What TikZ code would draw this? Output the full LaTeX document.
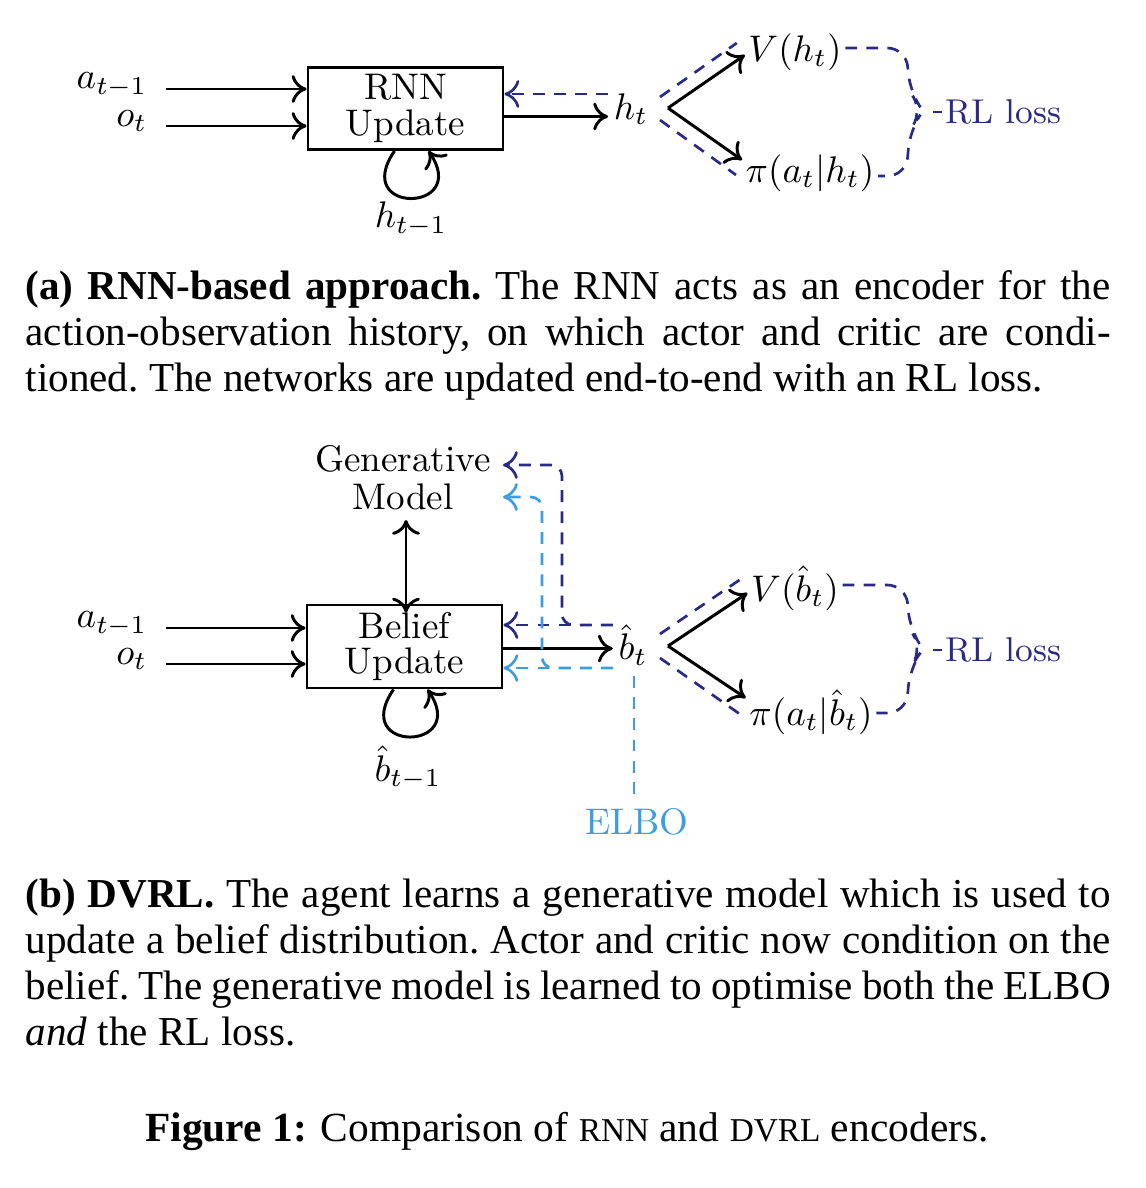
\documentclass[tikz,border=0pt]{standalone}
\usepackage{fontspec}
\newfontfamily\capfont{Liberation Serif}
\usetikzlibrary{arrows.meta}
\definecolor{navy}{RGB}{42,42,132}
\definecolor{elbo}{RGB}{60,158,222}
\tikzset{
  lbl/.style={font=\fontsize{10}{10}\selectfont, inner sep=0pt},
  boxnode/.style={draw, line width=0.8pt, minimum width=52.65pt, minimum height=22.14pt, align=center, inner sep=0pt, font=\fontsize{10}{10}\selectfont},
  tipA/.style={-{Computer Modern Rightarrow[length=4pt,width=7.5pt,line width=0.8pt]}},
  ln/.style={line width=0.8pt},
  arr/.style={ln, tipA},
  dsh/.style={line width=0.72pt, dash pattern=on 3.2pt off 2.5pt},
  darr/.style={dsh, -{Computer Modern Rightarrow[length=4pt,width=7.5pt,line width=0.72pt]}},
  captext/.style={anchor=base west, inner sep=0pt, font=\capfont\fontsize{11.1}{12.4}\selectfont\frenchspacing},
  rlnode/.style={font=\fontsize{9.3}{10}\selectfont, inner sep=0pt, anchor=west, text=navy},
}
\newcommand{\capline}[1]{\makebox[292.95pt][s]{#1}}
\begin{document}
\begin{tikzpicture}[x=0.27pt,y=-0.27pt]
\path[fill=white,use as bounding box] (0,0) rectangle (1146,1188);

% ---------------- (a) ----------------
\node[boxnode] (rnn) at (405.5,108.5) {RNN\\[-0.3pt]Update};
\node[lbl, anchor=east, inner xsep=4.86pt] (a1) at (166,85) {$a_{t-1}$};
\node[lbl, anchor=east, inner xsep=4.86pt] (o1) at (166,121) {$o_t$};
\draw[arr] ([shift={(0,4)}]a1.east) -- ([shift={(0,4)}]a1.east -| rnn.west);
\draw[arr] ([shift={(0,5)}]o1.east) -- ([shift={(0,5)}]o1.east -| rnn.west);
\draw[arr] ([shift={(-11,0)}]rnn.south) .. controls ++(-44,64) and ++(42,62) .. ([shift={(23,0)}]rnn.south);
\node[lbl] (hm1) at (411,219) {$h_{t-1}$};
\node[lbl, inner xsep=1.35pt] (ht) at (631,109) {$h_t$};
\draw[arr] ([shift={(0,8)}]rnn.east) -- ([shift={(0,8)}]rnn.east -| ht.west);
\draw[darr, navy] ([shift={(0,-15)}]ht.west) -- ([shift={(0,-15)}]ht.west -| rnn.east);
\coordinate (apx) at (668,108);
\node[lbl, inner xsep=0.81pt] (V1) at (795,52) {$V(h_t)$};
\node[lbl, inner xsep=0.81pt] (pi1) at (810,173) {$\pi(a_t|h_t)$};
\draw[arr] (apx) -- ([shift={(0,3)}]V1.west);
\draw[arr] (apx) -- ([shift={(0,-13)}]pi1.west);
\draw[dsh, navy] ([shift={(-8,-11)}]apx) -- ([shift={(-8,-9)}]V1.west);
\draw[dsh, navy] ([shift={(-8,12)}]apx) -- ([shift={(-6,2)}]pi1.west);
\node[rlnode] (rl1) at (945,112) {RL loss};
\draw[dsh, navy, rounded corners=5pt] ([shift={(0,-4)}]V1.east) -- (906,48) -- (910,92) -- (923,111) -- (910,130) -- (906,176) -- ([shift={(0,3)}]pi1.east);
\draw[navy, line width=0.72pt] ([shift={(-12,0)}]rl1.west) -- ([shift={(-3,0)}]rl1.west);

% caption (a)
\node[captext] (ca1) at (25,299) {\capline{\textbf{(a) RNN-based approach.} The RNN acts as an encoder for the}};
\node[captext] (ca2) at (25,345) {\capline{action-observation history, on which actor and critic are condi-}};
\node[captext] (ca3) at (25,391) {tioned. The networks are updated end-to-end with an RL loss.};

% ---------------- (b) ----------------
\node[lbl, align=center, font=\fontsize{10}{10.26}\selectfont] (gen) at (403,478) {Generative\\Model};
\node[boxnode, minimum height=22.41pt] (bel) at (404.5,646.5) {Belief\\[-0.8pt]Update};
\draw[ln, {Computer Modern Rightarrow[length=4pt,width=7.5pt,line width=0.8pt]}-{Computer Modern Rightarrow[length=4pt,width=7.5pt,line width=0.8pt]}] ([shift={(3,9)}]gen.south) -- ([shift={(3,9)}]gen.south |- bel.north);
\node[lbl, anchor=east, inner xsep=4.86pt] (a2) at (166,624) {$a_{t-1}$};
\node[lbl, anchor=east, inner xsep=4.86pt] (o2) at (166,659) {$o_t$};
\draw[arr] ([shift={(0,4)}]a2.east) -- ([shift={(0,4)}]a2.east -| bel.west);
\draw[arr] ([shift={(0,5)}]o2.east) -- ([shift={(0,5)}]o2.east -| bel.west);
\draw[arr] ([shift={(-11,0)}]bel.south) .. controls ++(-44,64) and ++(42,62) .. ([shift={(23,0)}]bel.south);
\node[lbl] (bm1) at (408,768) {$\hat b_{t-1}$};
\node[lbl, inner xsep=1.35pt] (bt) at (633,645) {$\hat b_t$};
\draw[arr] ([shift={(0,2)}]bel.east) -- ([shift={(0,2)}]bel.east -| bt.west);
% navy feedback
\coordinate (nj) at (562,625);
\draw[darr, navy] ([shift={(0,-20)}]bt.west) -- ([shift={(0,-20)}]bt.west -| bel.east);
\draw[darr, navy, rounded corners=3pt] ([shift={(0,-20)}]bt.west) -- (nj) -- (562,465) -- (503,465);
% light blue feedback
\draw[darr, elbo] ([shift={(0,23)}]bt.west) -- ([shift={(0,23)}]bt.west -| bel.east);
\draw[darr, elbo, rounded corners=3pt] ([shift={(0,23)}]bt.west) -- (542,668) -- (542,497) -- (503,497);
\node[lbl, text=elbo] (elb) at (637,822) {ELBO};
\draw[dsh, elbo] ([shift={(1,10)}]bt.south) -- ([shift={(-3,-8)}]elb.north);
\coordinate (apx2) at (668,646);
\node[lbl, inner xsep=0.81pt] (V2) at (795,588) {$V(\hat b_t)$};
\node[lbl, inner xsep=0.81pt] (pi2) at (811,712) {$\pi(a_t|\hat b_t)$};
\draw[arr] (apx2) -- ([shift={(0,5)}]V2.west);
\draw[arr] (apx2) -- ([shift={(0,-14)}]pi2.west);
\draw[dsh, navy] ([shift={(-8,-12)}]apx2) -- ([shift={(-8,-8)}]V2.west);
\draw[dsh, navy] ([shift={(-8,12)}]apx2) -- ([shift={(-6,2)}]pi2.west);
\node[rlnode] (rl2) at (945,650) {RL loss};
\draw[dsh, navy, rounded corners=5pt] ([shift={(0,-3)}]V2.east) -- (906,585) -- (910,630) -- (923,649) -- (910,668) -- (906,713) -- ([shift={(0,1)}]pi2.east);
\draw[navy, line width=0.72pt] ([shift={(-12,0)}]rl2.west) -- ([shift={(-3,0)}]rl2.west);

% caption (b)
\node[captext] (cb1) at (25,907) {\capline{\textbf{(b) DVRL.} The agent learns a generative model which is used to}};
\node[captext] (cb2) at (25,953) {\capline{update a belief distribution. Actor and critic now condition on the}};
\node[captext] (cb3) at (25,999) {\capline{belief. The generative model is learned to optimise both the ELBO}};
\node[captext] (cb4) at (25,1045) {\textit{and} the RL loss.};

% figure caption
\node[anchor=base, inner sep=0pt, font=\capfont\fontsize{11.2}{12.4}\selectfont] (fig) at (567,1141) {\textbf{Figure 1:} Comparison of {\fontsize{9}{9}\selectfont RNN} and {\fontsize{9}{9}\selectfont DVRL} encoders.};
\end{tikzpicture}
\end{document}
